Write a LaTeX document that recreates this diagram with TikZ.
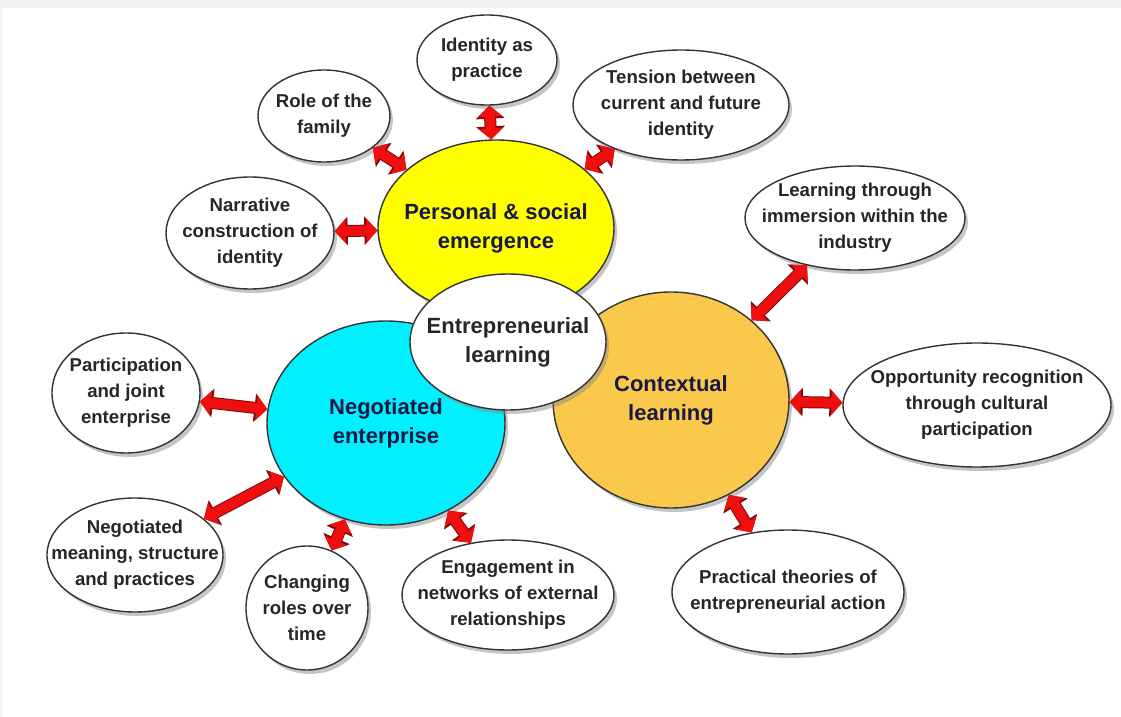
\documentclass[tikz,border=0pt]{standalone}
\usepackage{fontspec}
\setmainfont{Liberation Sans}
\usetikzlibrary{shapes.geometric,shadows,arrows.meta}

\begin{document}
\begin{tikzpicture}[x=0.5pt,y=-0.5pt,
    bubble/.style 2 args={ellipse, draw=black!80, line width=0.7pt, fill=white,
        minimum width=#1pt, minimum height=#2pt, inner xsep=-30pt, inner ysep=-12pt,
        align=center, font=\bfseries\fontsize{9.3}{13}\selectfont, text=black!85,
        drop shadow={shadow xshift=1.5pt, shadow yshift=-2pt, fill=black!45}},
    hub/.style={font=\bfseries\fontsize{11}{14.5}\selectfont, text=navytext},
    link/.style={line width=5pt, draw=arrowred,
        arrows={Triangle[length=5.5pt,width=12pt]-Triangle[length=5.5pt,width=12pt]},
        preaction={draw=arrowred!55!black, line width=6pt,
            arrows={Triangle[length=6.5pt,width=14pt]-Triangle[length=6.5pt,width=14pt]}}}]
        \definecolor{pagegrey}{RGB}{242,242,242}
        \definecolor{pseyellow}{RGB}{255,255,0}
        \definecolor{negcyan}{RGB}{0,240,255}
        \definecolor{ctxorange}{RGB}{250,200,75}
        \definecolor{arrowred}{RGB}{240,15,15}
        \definecolor{navytext}{RGB}{25,25,70}

        \fill[pagegrey] (0,0) rectangle (1121,717);
        \fill[white] (3,8) rectangle (1121,717);
        \useasboundingbox (0,0) rectangle (1121,717);

        % the three hubs and the core
        \node[bubble={118}{88}, fill=pseyellow, hub] (pse) at (496,228) {Personal \& social\\emergence};
        \node[bubble={119}{102}, fill=negcyan, hub] (neg) at (386,423) {Negotiated\\enterprise};
        \node[bubble={118}{108}, fill=ctxorange, hub] (ctx) at (671,400) {Contextual\\learning};
        \node[bubble={98}{68}, hub, text=black!85] (core) at (508,342) {Entrepreneurial\\learning};

        % outer bubbles
        \node[bubble={70}{45}] (ident) at (487,60) {Identity as\\practice};
        \node[bubble={66}{46}] (family) at (324,116) {Role of the\\family};
        \node[bubble={108}{55}] (tension) at (681,105) {Tension between\\current and future\\identity};
        \node[bubble={84}{56}] (narr) at (250,233) {Narrative\\construction of\\identity};
        \node[bubble={110}{52}] (immers) at (855,218) {Learning through\\immersion within the\\industry};
        \node[bubble={74}{60}] (partic) at (126,393) {Participation\\and joint\\enterprise};
        \node[bubble={134}{62}] (oppor) at (977,405) {Opportunity recognition\\through cultural\\participation};
        \node[bubble={88}{57}] (negmean) at (135,555) {Negotiated\\meaning, structure\\and practices};
        \node[bubble={61}{62}] (roles) at (307,608) {Changing\\roles over\\time};
        \node[bubble={106}{55}] (engage) at (508,595) {Engagement in\\networks of external\\relationships};
        \node[bubble={116}{62}] (theory) at (788,592) {Practical theories of\\entrepreneurial action};

        % double arrows
        \draw[link] (ident) -- (pse);
        \draw[link] (family) -- (pse);
        \draw[link] (tension) -- (pse);
        \draw[link] (narr) -- (pse);
        \draw[link] (immers) -- (ctx);
        \draw[link] (oppor) -- (ctx);
        \draw[link] (theory) -- (ctx);
        \draw[link] (partic) -- (neg);
        \draw[link] (negmean) -- (neg);
        \draw[link] (roles) -- (neg);
        \draw[link] (engage) -- (neg);
    \end{tikzpicture}
\end{document}
